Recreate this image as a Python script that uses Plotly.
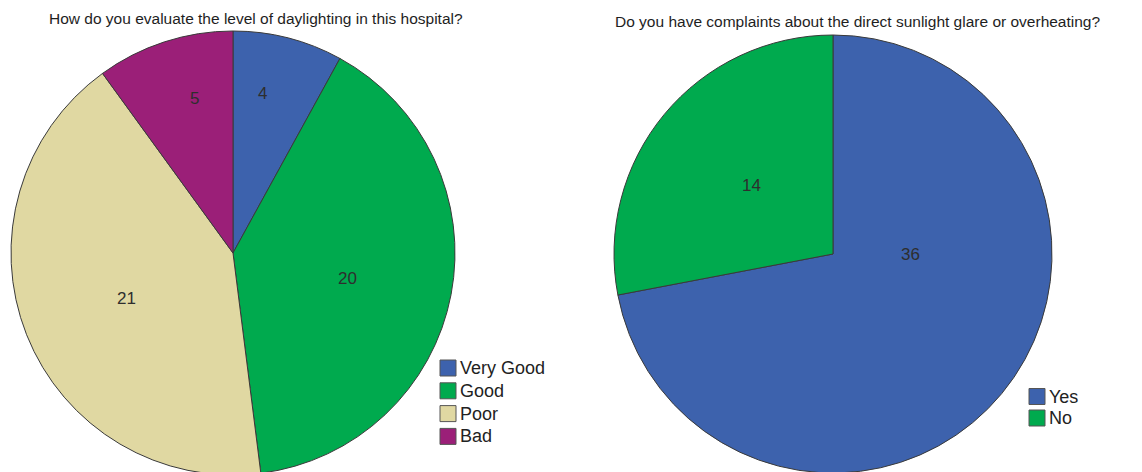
import math
import plotly.graph_objects as go

W, H = 1142, 478

# Data
q1_title = "How do you evaluate the level of daylighting in this hospital?"
q1_labels = ["Very Good", "Good", "Poor", "Bad"]
q1_values = [4, 20, 21, 5]

q2_title = "Do you have complaints about the direct sunlight glare or overheating?"
q2_labels = ["Yes", "No"]
q2_values = [36, 14]

# Styles
BLUE = "#3D62AD"
GREEN = "#00AA4E"
BEIGE = "#E0D8A2"
PURPLE = "#9B1F78"
q1_colors = [BLUE, GREEN, BEIGE, PURPLE]
q2_colors = [BLUE, GREEN]
FONT = "Liberation Sans, Arial, sans-serif"
EDGE = "#3a3a3a"

# pie geometry (pixel centre, radius)
P1 = (233, 253, 222)
P2 = (833, 254, 219)
# value label placement style: (radius fraction, angular shift in degrees) per slice
q1_label_style = [(0.733, -3.8), (0.527, 2.0), (0.519, -1.4), (0.716, 3.8)]
q2_label_style = [(0.356, -38.9), (0.486, 0.8)]


def px_domain(cx, cy, r):
    return dict(x=[(cx - r) / W, (cx + r) / W],
                y=[(H - cy - r) / H, (H - cy + r) / H])


def value_labels(values, geom, style):
    cx, cy, r = geom
    total = float(sum(values))
    start = 0.0
    out = []
    for v, (frac, shift) in zip(values, style):
        span = 360.0 * v / total
        ang = math.radians(start + span / 2 + shift)
        x = cx + frac * r * math.sin(ang)
        y = cy - frac * r * math.cos(ang)
        out.append(dict(text=str(v), x=x / W, y=(H - y) / H, xref="paper", yref="paper",
                        showarrow=False, xanchor="center", yanchor="middle",
                        font=dict(family=FONT, size=17, color="#2e2e2e")))
        start += span
    return out


def legend_items(labels, colors, x0, y0, step):
    shapes, anns = [], []
    for i, (lab, col) in enumerate(zip(labels, colors)):
        yc = y0 + i * step
        shapes.append(dict(type="rect", xref="paper", yref="paper",
                           x0=x0 / W, x1=(x0 + 16) / W,
                           y0=(H - yc - 8) / H, y1=(H - yc + 8) / H,
                           fillcolor=col, line=dict(color="#555555", width=1)))
        anns.append(dict(text=lab, x=(x0 + 18) / W, y=(H - yc) / H, xref="paper", yref="paper",
                         showarrow=False, xanchor="left", yanchor="middle",
                         font=dict(family=FONT, size=18, color="#222222")))
    return shapes, anns


fig = go.Figure()
fig.add_trace(go.Pie(
    labels=q1_labels, values=q1_values, sort=False, direction="clockwise",
    rotation=0, marker=dict(colors=q1_colors, line=dict(color=EDGE, width=1)),
    textinfo="none", domain=px_domain(*P1), showlegend=False, hoverinfo="label+value",
))
fig.add_trace(go.Pie(
    labels=q2_labels, values=q2_values, sort=False, direction="clockwise",
    rotation=0, marker=dict(colors=q2_colors, line=dict(color=EDGE, width=1)),
    textinfo="none", domain=px_domain(*P2), showlegend=False, hoverinfo="label+value",
))

s1, a1 = legend_items(q1_labels, q1_colors, 440, 368, 22.8)
s2, a2 = legend_items(q2_labels, q2_colors, 1029, 396.5, 21.5)

annotations = [
    dict(text=q1_title, x=255.5 / W, y=(H - 18) / H, xref="paper", yref="paper",
         showarrow=False, xanchor="center", yanchor="middle",
         font=dict(family=FONT, size=15.5, color="#1e1e1e")),
    dict(text=q2_title, x=857 / W, y=(H - 21.5) / H, xref="paper", yref="paper",
         showarrow=False, xanchor="center", yanchor="middle",
         font=dict(family=FONT, size=15.5, color="#1e1e1e")),
]
annotations += value_labels(q1_values, P1, q1_label_style)
annotations += value_labels(q2_values, P2, q2_label_style)
annotations += a1 + a2

fig.update_layout(
    width=W, height=H,
    margin=dict(l=0, r=0, t=0, b=0),
    paper_bgcolor="white", plot_bgcolor="white",
    font=dict(family=FONT, color="#333333"),
    showlegend=False,
    shapes=s1 + s2,
    annotations=annotations,
)

fig.write_html(
    "out.html",
    post_script="document.documentElement.style.overflow='hidden';document.body.style.overflow='hidden';",
)
